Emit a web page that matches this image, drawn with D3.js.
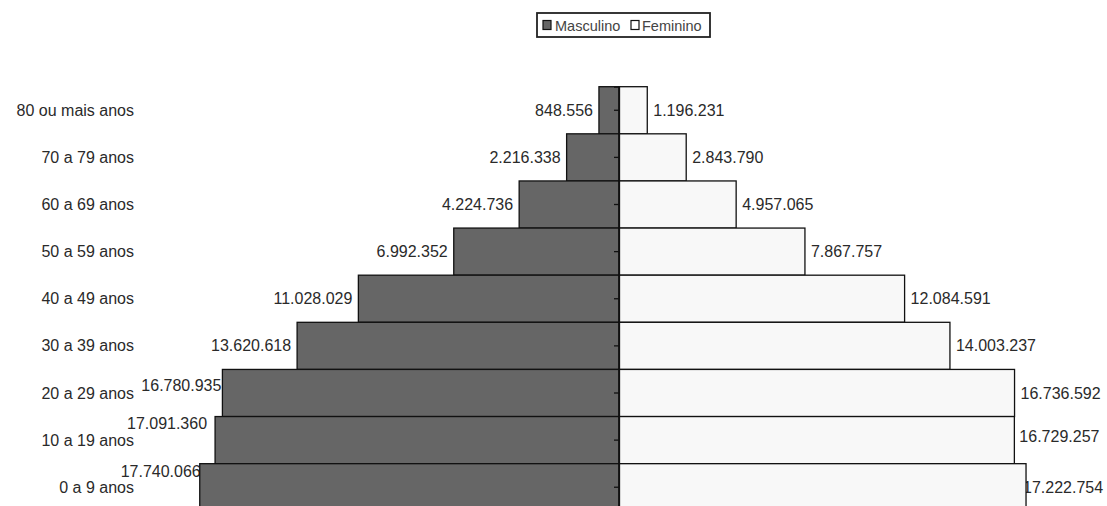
<!DOCTYPE html>
<html>
<head>
<meta charset="utf-8">
<script src="https://cdn.jsdelivr.net/npm/d3@7"></script>
<style>
  html, body { margin: 0; padding: 0; background: #fff; }
  svg { display: block; }
  text { font-family: "Liberation Sans", Arial, sans-serif; }
</style>
</head>
<body>
<svg id="chart" width="1107" height="506"></svg>
<script>
// Population by age group and sex
const categories = [
  "80 ou mais anos", "70 a 79 anos", "60 a 69 anos", "50 a 59 anos",
  "40 a 49 anos", "30 a 39 anos", "20 a 29 anos", "10 a 19 anos", "0 a 9 anos"
];
const masculino = [848556, 2216338, 4224736, 6992352, 11028029, 13620618, 16780935, 17091360, 17740066];
const feminino  = [1196231, 2843790, 4957065, 7867757, 12084591, 14003237, 16736592, 16729257, 17222754];
const seriesNames = ["Masculino", "Feminino"];

// Label nudges where the value labels crowd the category column / right edge
const leftNudge  = { "20 a 29 anos": [5, -8], "10 a 19 anos": [-2, -17], "0 a 9 anos": [7, -16] };
const rightNudge = { "10 a 19 anos": [-1, -4], "0 a 9 anos": [-9, 0] };

const svg = d3.select("#chart");
const fmt = d3.formatLocale({ decimal: ",", thousands: ".", grouping: [3], currency: ["R$", ""] }).format(",d");

const cx = 619;
const half = 425.4;
const x = d3.scaleLinear().domain([-18e6, 18e6]).range([cx - half, cx + half]);
const y = d3.scaleBand().domain(categories).range([86.7, 510.8]).padding(0);

const maleFill = "#666666", femaleFill = "#f8f8f8";
const textFill = "#2a2a2a";

// Category labels
svg.append("g").selectAll("text")
  .data(categories)
  .join("text")
  .attr("x", 134)
  .attr("y", d => y(d) + y.bandwidth() / 2)
  .attr("dy", "0.35em")
  .attr("text-anchor", "end")
  .attr("font-size", 16)
  .attr("fill", textFill)
  .text(d => d);

const rows = categories.map((c, i) => ({ c, m: masculino[i], f: feminino[i] }));

// Value labels (drawn beneath the bars)
const labels = svg.append("g").attr("font-size", 16).attr("fill", textFill);
labels.selectAll("text.m")
  .data(rows)
  .join("text")
  .attr("class", "m")
  .attr("x", d => x(-d.m) - 6 + (leftNudge[d.c] ? leftNudge[d.c][0] : 0))
  .attr("y", d => y(d.c) + y.bandwidth() / 2 + (leftNudge[d.c] ? leftNudge[d.c][1] : 0))
  .attr("dy", "0.35em")
  .attr("text-anchor", "end")
  .text(d => fmt(d.m));
labels.selectAll("text.f")
  .data(rows)
  .join("text")
  .attr("class", "f")
  .attr("x", d => x(d.f) + 6 + (rightNudge[d.c] ? rightNudge[d.c][0] : 0))
  .attr("y", d => y(d.c) + y.bandwidth() / 2 + (rightNudge[d.c] ? rightNudge[d.c][1] : 0))
  .attr("dy", "0.35em")
  .attr("text-anchor", "start")
  .text(d => fmt(d.f));

// Bars
const bars = svg.append("g").attr("stroke", "#111").attr("stroke-width", 1.3);
bars.selectAll("rect.m")
  .data(rows)
  .join("rect")
  .attr("class", "m")
  .attr("x", d => x(-d.m))
  .attr("y", d => y(d.c))
  .attr("width", d => x(0) - x(-d.m))
  .attr("height", y.bandwidth())
  .attr("fill", maleFill);
bars.selectAll("rect.f")
  .data(rows)
  .join("rect")
  .attr("class", "f")
  .attr("x", x(0))
  .attr("y", d => y(d.c))
  .attr("width", d => x(d.f) - x(0))
  .attr("height", y.bandwidth())
  .attr("fill", femaleFill);

// Central category axis with small ticks
const axis = d3.axisLeft(y).tickSize(5).tickFormat("");
const axisG = svg.append("g").attr("transform", `translate(${x(0)},0)`).call(axis);
axisG.select(".domain").attr("stroke", "#111").attr("stroke-width", 1.3);
axisG.selectAll(".tick line").attr("stroke", "#111").attr("stroke-width", 1.3);

// Legend
const legend = svg.append("g");
legend.append("rect")
  .attr("x", 537).attr("y", 13).attr("width", 173).attr("height", 24)
  .attr("fill", "#fff").attr("stroke", "#222").attr("stroke-width", 1.8);
const legendItems = [
  { name: seriesNames[0], fill: maleFill, sx: 543, tx: 555 },
  { name: seriesNames[1], fill: "#fff", sx: 631, tx: 642 }
];
legend.selectAll("rect.sw")
  .data(legendItems)
  .join("rect")
  .attr("class", "sw")
  .attr("x", d => d.sx).attr("y", 20.5).attr("width", 8).attr("height", 9)
  .attr("fill", d => d.fill).attr("stroke", "#111").attr("stroke-width", 1.2);
legend.selectAll("text")
  .data(legendItems)
  .join("text")
  .attr("x", d => d.tx).attr("y", 25.5)
  .attr("dy", "0.35em")
  .attr("font-size", 14.5)
  .attr("fill", "#444")
  .text(d => d.name);
</script>
</body>
</html>
